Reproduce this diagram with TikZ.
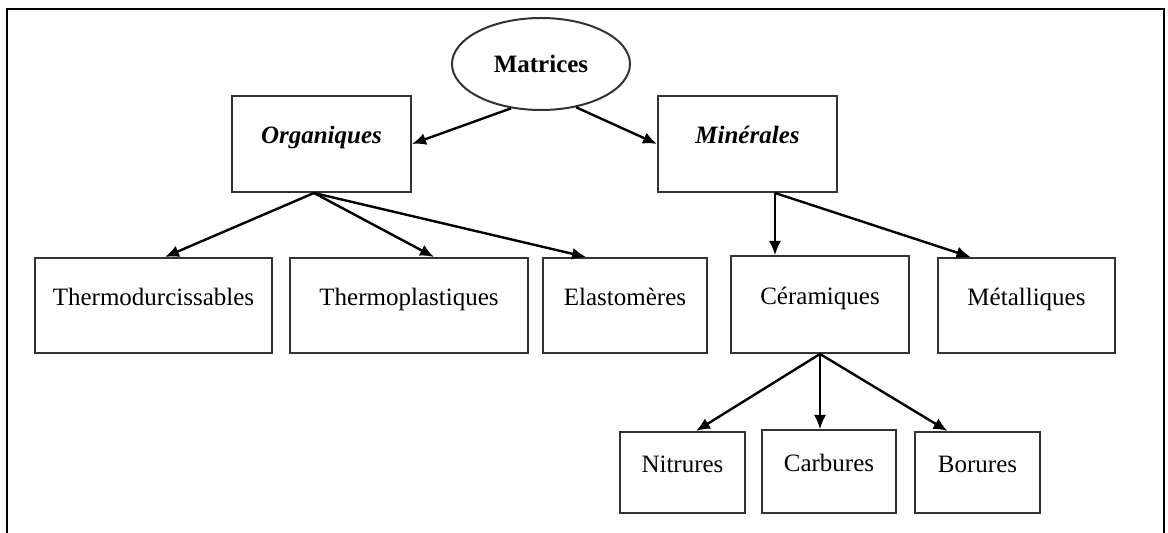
\documentclass[tikz,border=0pt]{standalone}
\usepackage{fontspec}
\setmainfont{Liberation Serif}
\usepackage{tikz}
\usetikzlibrary{calc}
\usetikzlibrary{arrows.meta}
\usetikzlibrary{shapes.geometric}
\tikzset{boite/.style={draw=black!80, line width=1pt, rectangle, inner sep=0,
  text height=1.6ex, text depth=1.6ex, font=\fontsize{12.5}{15}\selectfont}}
\tikzset{fleche/.style={black, line width=1.2pt, ->, >={Latex[length=7pt,width=6pt]}}}

\begin{document}
\begin{tikzpicture} [x=0.5pt,y=-0.5pt]
\useasboundingbox (0,0) rectangle (1168,533);
\draw[black, line width=1.2pt] (7,533) -- (7,9) -- (1164,9) -- (1164,533);

\node[ellipse, draw=black!80, line width=1pt, minimum width=89pt, minimum height=46pt, inner sep=0, font=\fontsize{12.5}{15}\selectfont\bfseries] (mat) at (541,64) {Matrices};

\node[boite, minimum width=89.5pt, minimum height=48pt, font=\fontsize{12.5}{15}\selectfont\bfseries\itshape] (org) at (321.5,144) {Organiques};
\node[boite, minimum width=89.5pt, minimum height=48pt, font=\fontsize{12.5}{15}\selectfont\bfseries\itshape] (min) at (747.5,144) {Minérales};

\node[boite, minimum width=118.5pt, minimum height=47.5pt] (thd) at (153.5,305.5) {Thermodurcissables};
\node[boite, minimum width=119pt, minimum height=47.5pt] (thp) at (409,305.5) {Thermoplastiques};
\node[boite, minimum width=82pt, minimum height=47.5pt] (ela) at (625,305.5) {Elastomères};
\node[boite, minimum width=89pt, minimum height=48.5pt] (cer) at (820,304.5) {Céramiques};
\node[boite, minimum width=88.5pt, minimum height=47.5pt] (met) at (1026.5,305.5) {Métalliques};

\node[boite, minimum width=62.5pt, minimum height=40.5pt] (nit) at (682.5,472.5) {Nitrures};
\node[boite, minimum width=67pt, minimum height=41.5pt] (car) at (829,471.5) {Carbures};
\node[boite, minimum width=62.5pt, minimum height=40.5pt] (bor) at (977.5,472.5) {Borures};

\draw[fleche] (mat.236) -- (org.east);
\draw[fleche] (mat.309) -- (min.west);

\coordinate (o1) at ([xshift=-3.75pt]org.south);
\foreach \cible/\dx in {thd/5.75pt, thp/12.5pt, ela/-19.5pt}
  \draw[fleche] (o1) -- ([xshift=\dx]\cible.north);

\coordinate (m1) at ([xshift=13.75pt]min.south);
\draw[fleche, line width=0.8pt] (m1) -- (m1 |- cer.north);
\draw[fleche] (m1) -- ([xshift=-28pt]met.north);

\draw[fleche] (cer.south) -- ([xshift=6.75pt]nit.north);
\draw[fleche, line width=0.8pt] (cer.south) -- (cer.south |- car.north);
\draw[fleche] (cer.south) -- ([xshift=-15pt]bor.north);
\end{tikzpicture}
\end{document}
